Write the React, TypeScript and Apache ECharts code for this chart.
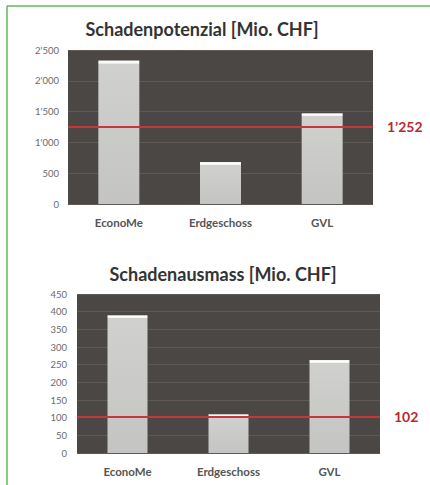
import React, { useEffect, useRef } from "react";
import * as echarts from "echarts";

const categories = ["EconoMe", "Erdgeschoss", "GVL"];
const potenzialValues = [2330, 680, 1475];
const potenzialMean = 1252;
const potenzialMax = 2500;
const potenzialInterval = 500;
const ausmassValues = [390, 110, 263];
const ausmassMean = 102;
const ausmassMax = 450;
const ausmassInterval = 50;
const titles = ["Schadenpotenzial [Mio. CHF]", "Schadenausmass [Mio. CHF]"];

const fmt = (v: number, sep: string) =>
  String(Math.round(v)).replace(/\B(?=(\d{3})+(?!\d))/g, sep);

const FONT = "Lato";
const BG = "#4a4744";
const GRIDLINE = "#5d5a57";
const RED = "#c9363a";
const LABEL_RED = "#b8292f";

function barData(values: number[], max: number, plotH: number) {
  return values.map((v) => {
    const f = Math.min(0.4, (3 * max) / plotH / v);
    return {
      value: v,
      itemStyle: {
        color: new echarts.graphic.LinearGradient(0, 0, 0, 1, [
          { offset: 0, color: "#f0f0ee" },
          { offset: f * 0.5, color: "#ffffff" },
          { offset: f, color: "#ededeb" },
          { offset: Math.min(1, f + 0.002), color: "#d0d0ce" },
          { offset: 1, color: "#c4c4c2" },
        ]),
      },
    };
  });
}

export default function App() {
  const ref = useRef<HTMLDivElement>(null);
  useEffect(() => {
    if (!ref.current) return;
    const chart = echarts.init(ref.current, null, { renderer: "svg" });
    const grids = [
      { left: 68, top: 50, width: 305, height: 154 },
      { left: 77, top: 294, width: 303, height: 159 },
    ];
    const yAxisCommon = (max: number, interval: number, margin: number, sep: boolean) => ({
      type: "value" as const,
      min: 0,
      max,
      interval,
      axisLine: { show: false },
      axisTick: { show: false },
      splitLine: { show: true, lineStyle: { color: GRIDLINE, width: 1 } },
      axisLabel: {
        color: "#6a6a6a",
        fontSize: 9.5,
        fontFamily: FONT,
        margin,
        formatter: (v: number) => (sep ? fmt(v, "'") : String(v)),
      },
    });
    const xAxisCommon = (gi: number, margin: number) => ({
      type: "category" as const,
      gridIndex: gi,
      data: categories,
      axisLine: { show: false },
      axisTick: { show: false },
      axisLabel: {
        color: "#555555",
        fontSize: 11.5,
        fontWeight: "bold" as const,
        fontFamily: FONT,
        margin,
      },
    });
    const markLine = (mean: number) => ({
      silent: true,
      symbol: "none",
      lineStyle: { color: RED, width: 2, type: "solid" as const },
      label: {
        position: "end" as const,
        distance: 14,
        color: LABEL_RED,
        fontSize: 14,
        fontWeight: "bold" as const,
        fontFamily: FONT,
        formatter: () => fmt(mean, "’"),
      },
      data: [{ yAxis: mean }],
    });
    chart.setOption({
      animation: false,
      backgroundColor: "#ffffff",
      title: [
        {
          text: titles[0],
          left: 197,
          top: 15,
          textAlign: "center",
          textStyle: { fontFamily: FONT, fontSize: 18, fontWeight: "bold", color: "#333333" },
        },
        {
          text: titles[1],
          left: 218,
          top: 260,
          textAlign: "center",
          textStyle: { fontFamily: FONT, fontSize: 18, fontWeight: "bold", color: "#333333" },
        },
      ],
      grid: grids.map((g) => ({
        ...g,
        show: true,
        backgroundColor: BG,
        borderWidth: 0,
      })),
      xAxis: [xAxisCommon(0, 12), xAxisCommon(1, 12)],
      yAxis: [
        { ...yAxisCommon(potenzialMax, potenzialInterval, 9, true), gridIndex: 0 },
        { ...yAxisCommon(ausmassMax, ausmassInterval, 10, false), gridIndex: 1 },
      ],
      series: [
        {
          type: "bar",
          xAxisIndex: 0,
          yAxisIndex: 0,
          barWidth: 41,
          data: barData(potenzialValues, potenzialMax, grids[0].height),
          markLine: markLine(potenzialMean),
        },
        {
          type: "bar",
          xAxisIndex: 1,
          yAxisIndex: 1,
          barWidth: 40,
          data: barData(ausmassValues, ausmassMax, grids[1].height),
          markLine: markLine(ausmassMean),
        },
      ],
      graphic: [
        {
          type: "line",
          shape: { x1: 7, y1: 6, x2: 430, y2: 6 },
          style: { stroke: "#5cb85c", lineWidth: 1.5 },
        },
        {
          type: "line",
          shape: { x1: 7, y1: 6, x2: 7, y2: 485 },
          style: { stroke: "#5cb85c", lineWidth: 1.5 },
        },
      ],
    });
    return () => chart.dispose();
  }, []);
  return (
    <div
      ref={ref}
      style={{ position: "absolute", left: 0, top: 0, width: 430, height: 485 }}
    />
  );
}
